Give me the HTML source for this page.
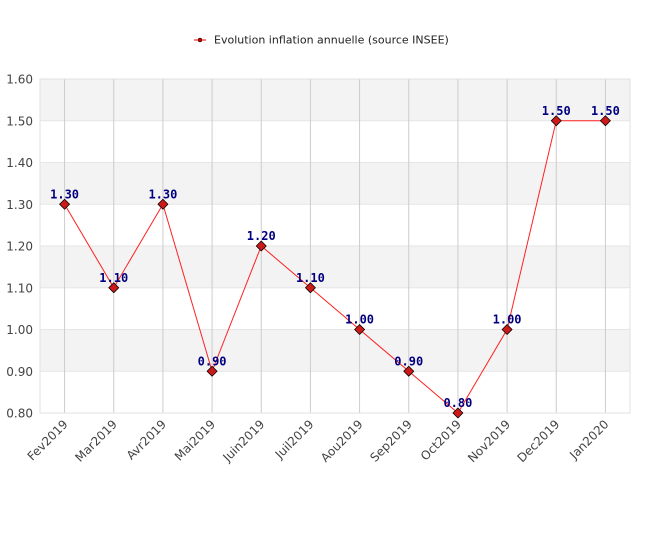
<!DOCTYPE html>
<html><head><meta charset="utf-8"><style>
body{margin:0;background:#fff;}
svg text{font-family:"DejaVu Sans","Liberation Sans",sans-serif;}
</style></head><body>
<svg id="chart" width="650" height="550" xmlns="http://www.w3.org/2000/svg">
<g>
<line x1="194" y1="40" x2="206" y2="40" stroke="#e00" stroke-width="1"/>
<circle cx="200" cy="40" r="2" fill="#c00" stroke="#000" stroke-width="0.5"/>
<text x="214" y="43.5" font-size="11" fill="#222">Evolution inflation annuelle (source INSEE)</text>
</g>
<g id="bands"></g><g id="grid"></g><g id="axes"></g><g id="series"></g><g id="labels"></g>
</svg>
<script>
const categories=["Fev2019","Mar2019","Avr2019","Mai2019","Juin2019","Juil2019","Aou2019","Sep2019","Oct2019","Nov2019","Dec2019","Jan2020"];
const values=[1.30,1.10,1.30,0.90,1.20,1.10,1.00,0.90,0.80,1.00,1.50,1.50];
const yTicks=[0.80,0.90,1.00,1.10,1.20,1.30,1.40,1.50,1.60];
const L=40,R=630,T=79,B=413,yMin=0.8,yMax=1.6;
const NS="http://www.w3.org/2000/svg";
const band=(R-L)/categories.length;
function x(i){return L+band*(i+0.5);}
function y(v){return B-(v-yMin)/(yMax-yMin)*(B-T);}
function mk(tag,attrs,parent,txt){const e=document.createElementNS(NS,tag);for(const k in attrs)e.setAttribute(k,attrs[k]);if(txt!==undefined)e.textContent=txt;document.getElementById(parent).appendChild(e);return e;}
for(let k=0;k<yTicks.length-1;k++){
  if((yTicks.length-2-k)%2===0){const r=mk('rect',{x:L,y:y(yTicks[k+1]),width:R-L,height:y(yTicks[k])-y(yTicks[k+1]),fill:'#f3f3f3'},'bands');
  
  }
}
yTicks.forEach(t=>{
  const l=mk('line',{x1:L,x2:R,y1:y(t),y2:y(t),stroke:'#e6e6e6'},'grid');
  
  
  const tx=mk('text',{x:L-7,y:y(t)+4.5,'text-anchor':'end','font-size':'12',fill:'#444'},'axes',t.toFixed(2));
  
  
});
categories.forEach((c,i)=>{
  const l=mk('line',{x1:x(i),x2:x(i),y1:T,y2:B,stroke:'#cccccc'},'grid');
  
  
  const tx=mk('text',{x:x(i)+4,y:B+12,'text-anchor':'end','font-size':'12',fill:'#444',transform:`rotate(-45 ${x(i)+4} ${B+12})`},'axes',c);
  
  
});
const fr=mk('rect',{x:L,y:T,width:R-L,height:B-T,fill:'none',stroke:'#e0e0e0'},'axes');


const pl=mk('polyline',{points:values.map((v,i)=>x(i)+','+y(v)).join(' '),fill:'none',stroke:'#ff2020','stroke-width':'1'},'series');


values.forEach((v,i)=>{
  const px=x(i),py=y(v);
  const m=mk('polygon',{points:`${px},${py-5} ${px+5},${py} ${px},${py+5} ${px-5},${py}`,fill:'#cc1a1a',stroke:'#000','stroke-width':'0.8','stroke-linejoin':'round'},'series');
  
  
  const t=mk('text',{x:px,y:py-6,'text-anchor':'middle','font-size':'12','font-weight':'bold',fill:'#000080',style:'font-family:"DejaVu Sans Mono","Liberation Mono",monospace'},'labels',v.toFixed(2));
  
  
});
</script>
</body></html>
